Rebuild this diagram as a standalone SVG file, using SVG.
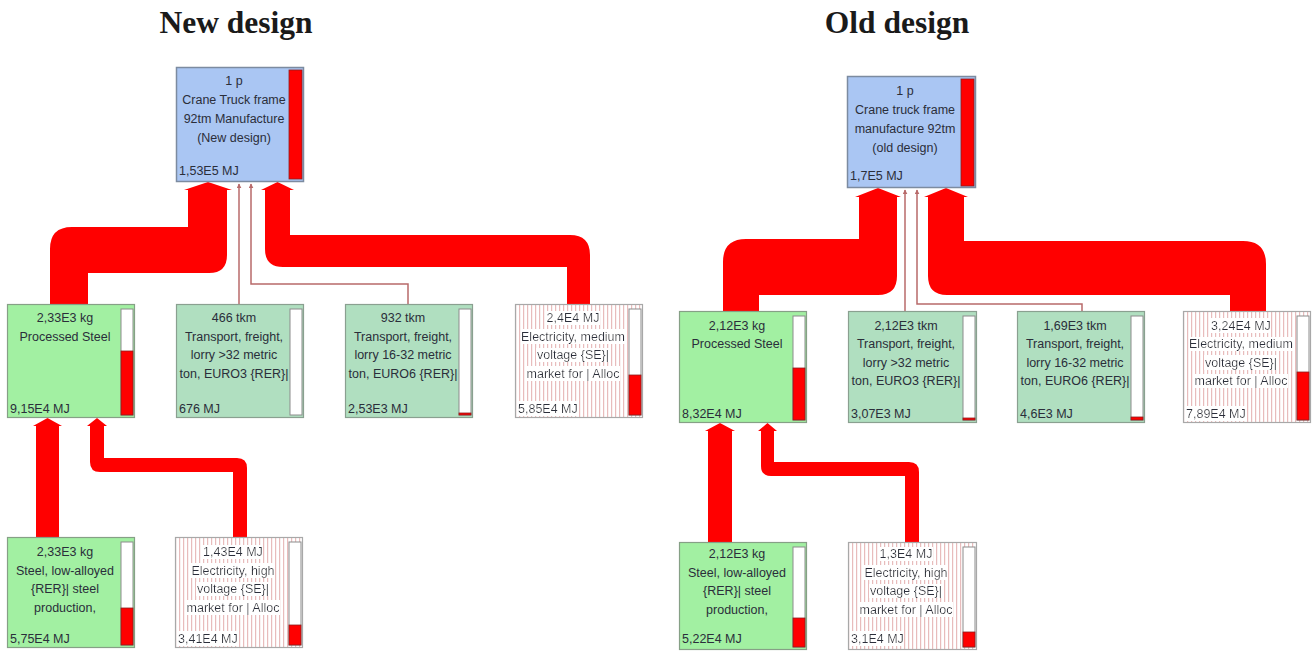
<svg xmlns="http://www.w3.org/2000/svg" width="1315" height="655" viewBox="0 0 1315 655">
<style>
.title{font-family:"Liberation Serif","Times New Roman",serif;font-weight:bold;font-size:31.5px;fill:#1a1a1a;text-anchor:middle}
.t{font-family:"Liberation Sans",Arial,sans-serif;font-size:12.5px;fill:#2a2e3a;text-anchor:middle}
.v{font-family:"Liberation Sans",Arial,sans-serif;font-size:12.5px;fill:#2a2e3a;text-anchor:start}
.wb{filter:url(#wbg)}
.blue{fill:#aac6f3;stroke:#7c8ba0;stroke-width:1.5}
.green{fill:#a2f0a2;stroke:#86a086;stroke-width:1.2}
.teal{fill:#b0dfc0;stroke:#8aa090;stroke-width:1.2}
.elec{fill:url(#stripe);stroke:#a8a8a8;stroke-width:1.2}
.barbg{fill:#fff;stroke:#8c8c8c;stroke-width:1}
.bar{fill:#ff0000;stroke:#8a2020;stroke-width:0.8}
.flow{fill:#ff0000}
.thin{stroke:#b86a6a;stroke-width:1.5;fill:none;marker-end:url(#ah)}
</style>
<defs>
<pattern id="stripe" width="4" height="4" patternUnits="userSpaceOnUse"><rect width="4" height="4" fill="#fff"/><rect width="1.2" height="4" fill="#e8bcbc"/></pattern>
<filter id="wbg" x="0" y="0" width="1" height="1"><feFlood flood-color="#ffffff"/><feComposite in="SourceGraphic" operator="over"/></filter>
<marker id="ah" viewBox="0 0 8 8" refX="7" refY="4" markerWidth="5" markerHeight="5" orient="auto" markerUnits="userSpaceOnUse"><path d="M0,0 L8,4 L0,8 Z" fill="#b86a6a"/></marker>
</defs>
<rect width="1315" height="655" fill="#fff"/>
<text class="title" x="236" y="33">New design</text>
<text class="title" x="897" y="33">Old design</text>

<g id="connectors">
<!-- new design -->
<path class="flow" d="M50,304 V249 Q50,227 72,227 H188 V190 L184,190 L208,182 L232,190 L227,190 V255 Q227,273 209,273 H88 V304 Z"/>
<path class="flow" d="M265,190 L261,190 L277.5,182 L294,190 L290,190 V235 H570 Q590,235 590,255 V304 H567 V267 H283 Q265,267 265,249 Z"/>
<path class="thin" d="M239,304 V184"/>
<path class="thin" d="M408,304 V284 H251 V184"/>
<path class="flow" d="M36,537 V426 L33,426 L47.5,418 L62,426 L59,426 V537 Z"/>
<path class="flow" d="M104,426 L107,426 L97,418 L87,426 L90,426 V462 Q90,472 100,472 H233 V537 H247 V468 Q247,458 237,458 H104 Z"/>
<!-- old design -->
<path class="flow" d="M723,311 V262 Q723,239 746,239 H859 V197 L855,197 L878,188 L901,197 L897,197 V276 Q897,295 878,295 H759 V311 Z"/>
<path class="flow" d="M928,197 L924,197 L946,188 L968,197 L964,197 V241 H1243 Q1266,241 1266,264 V311 H1230 V295 H947 Q928,295 928,276 Z"/>
<path class="thin" d="M905,311 V190"/>
<path class="thin" d="M1082,311 V304 H917 V190"/>
<path class="flow" d="M708,542 V431 L705,431 L720,423 L735,431 L732,431 V542 Z"/>
<path class="flow" d="M774,431 L777,431 L767.5,423 L758,431 L761,431 V466 Q761,476 771,476 H905 V542 H919 V472 Q919,462 909,462 H774 Z"/>
</g>

<!-- NEW DESIGN NODES -->
<g id="new-top" transform="translate(176,67)">
<rect class="blue" x="0.5" y="0.5" width="127" height="114"/>
<rect class="bar" x="113" y="3" width="13" height="109"/>
<text class="t" x="58" y="17.5">1 p</text>
<text class="t" x="58" y="36.5">Crane Truck frame</text>
<text class="t" x="58" y="56">92tm Manufacture</text>
<text class="t" x="58" y="75">(New design)</text>
<text class="v" x="3" y="107.5">1,53E5 MJ</text>
</g>
<g id="new-processed-steel" transform="translate(7,304)">
<rect class="green" x="0.5" y="0.5" width="127" height="113"/>
<rect class="barbg" x="114" y="5" width="12" height="106"/>
<rect class="bar" x="114" y="47" width="12" height="64"/>
<text class="t" x="58" y="18">2,33E3 kg</text>
<text class="t" x="58" y="36.5">Processed Steel</text>
<text class="v" x="3" y="108.5">9,15E4 MJ</text>
</g>
<g id="new-transport-euro3" transform="translate(176,304)">
<rect class="teal" x="0.5" y="0.5" width="127" height="113"/>
<rect class="barbg" x="114" y="5" width="12" height="106"/>
<text class="t" x="58" y="18">466 tkm</text>
<text class="t" x="58" y="36.5">Transport, freight,</text>
<text class="t" x="58" y="55">lorry &gt;32 metric</text>
<text class="t" x="58" y="73.5">ton, EURO3 {RER}|</text>
<text class="v" x="3" y="108.5">676 MJ</text>
</g>
<g id="new-transport-euro6" transform="translate(345,304)">
<rect class="teal" x="0.5" y="0.5" width="127" height="113"/>
<rect class="barbg" x="114" y="5" width="12" height="106"/>
<rect class="bar" x="114" y="109" width="12" height="2"/>
<text class="t" x="58" y="18">932 tkm</text>
<text class="t" x="58" y="36.5">Transport, freight,</text>
<text class="t" x="58" y="55">lorry 16-32 metric</text>
<text class="t" x="58" y="73.5">ton, EURO6 {RER}|</text>
<text class="v" x="3" y="108.5">2,53E3 MJ</text>
</g>
<g id="new-electricity-medium" transform="translate(515,304)">
<rect class="elec" x="0.5" y="0.5" width="127" height="113"/>
<rect class="barbg" x="114" y="5" width="12" height="106"/>
<rect class="bar" x="114" y="71" width="12" height="40"/>
<text class="t wb" x="58" y="18">2,4E4 MJ</text>
<text class="t wb" x="58" y="36.5">Electricity, medium</text>
<text class="t wb" x="58" y="55">voltage {SE}|</text>
<text class="t wb" x="58" y="73.5">market for | Alloc</text>
<text class="v wb" x="3" y="108.5">5,85E4 MJ</text>
</g>
<g id="new-steel-low-alloyed" transform="translate(7,537)">
<rect class="green" x="0.5" y="0.5" width="127" height="110"/>
<rect class="barbg" x="114" y="5" width="12" height="103"/>
<rect class="bar" x="114" y="71" width="12" height="37"/>
<text class="t" x="58" y="19">2,33E3 kg</text>
<text class="t" x="58" y="37.5">Steel, low-alloyed</text>
<text class="t" x="58" y="56">{RER}| steel</text>
<text class="t" x="58" y="74.5">production,</text>
<text class="v" x="3" y="105.5">5,75E4 MJ</text>
</g>
<g id="new-electricity-high" transform="translate(175,537)">
<rect class="elec" x="0.5" y="0.5" width="127" height="110"/>
<rect class="barbg" x="114" y="5" width="12" height="103"/>
<rect class="bar" x="114" y="88" width="12" height="20"/>
<text class="t wb" x="58" y="19">1,43E4 MJ</text>
<text class="t wb" x="58" y="37.5">Electricity, high</text>
<text class="t wb" x="58" y="56">voltage {SE}|</text>
<text class="t wb" x="58" y="74.5">market for | Alloc</text>
<text class="v wb" x="3" y="105.5">3,41E4 MJ</text>
</g>

<!-- OLD DESIGN NODES -->
<g id="old-top" transform="translate(847,76)">
<rect class="blue" x="0.5" y="0.5" width="128" height="111"/>
<rect class="bar" x="114" y="3" width="13" height="107"/>
<text class="t" x="58" y="18.5">1 p</text>
<text class="t" x="58" y="37.5">Crane truck frame</text>
<text class="t" x="58" y="56.5">manufacture 92tm</text>
<text class="t" x="58" y="75.5">(old design)</text>
<text class="v" x="3" y="103.5">1,7E5 MJ</text>
</g>
<g id="old-processed-steel" transform="translate(679,311)">
<rect class="green" x="0.5" y="0.5" width="127" height="111"/>
<rect class="barbg" x="114" y="5" width="12" height="104"/>
<rect class="bar" x="114" y="57" width="12" height="52"/>
<text class="t" x="58" y="18.5">2,12E3 kg</text>
<text class="t" x="58" y="37">Processed Steel</text>
<text class="v" x="3" y="106.5">8,32E4 MJ</text>
</g>
<g id="old-transport-euro3" transform="translate(848,311)">
<rect class="teal" x="0.5" y="0.5" width="128" height="111"/>
<rect class="barbg" x="115" y="5" width="12" height="104"/>
<rect class="bar" x="115" y="107" width="12" height="2"/>
<text class="t" x="58" y="18.5">2,12E3 tkm</text>
<text class="t" x="58" y="37">Transport, freight,</text>
<text class="t" x="58" y="55.5">lorry &gt;32 metric</text>
<text class="t" x="58" y="74">ton, EURO3 {RER}|</text>
<text class="v" x="3" y="106.5">3,07E3 MJ</text>
</g>
<g id="old-transport-euro6" transform="translate(1017,311)">
<rect class="teal" x="0.5" y="0.5" width="127" height="111"/>
<rect class="barbg" x="114" y="5" width="12" height="104"/>
<rect class="bar" x="114" y="106" width="12" height="3"/>
<text class="t" x="58" y="18.5">1,69E3 tkm</text>
<text class="t" x="58" y="37">Transport, freight,</text>
<text class="t" x="58" y="55.5">lorry 16-32 metric</text>
<text class="t" x="58" y="74">ton, EURO6 {RER}|</text>
<text class="v" x="3" y="106.5">4,6E3 MJ</text>
</g>
<g id="old-electricity-medium" transform="translate(1183,311)">
<rect class="elec" x="0.5" y="0.5" width="127" height="111"/>
<rect class="barbg" x="114" y="5" width="12" height="104"/>
<rect class="bar" x="114" y="61" width="12" height="48"/>
<text class="t wb" x="58" y="18.5">3,24E4 MJ</text>
<text class="t wb" x="58" y="37">Electricity, medium</text>
<text class="t wb" x="58" y="55.5">voltage {SE}|</text>
<text class="t wb" x="58" y="74">market for | Alloc</text>
<text class="v wb" x="3" y="106.5">7,89E4 MJ</text>
</g>
<g id="old-steel-low-alloyed" transform="translate(679,542)">
<rect class="green" x="0.5" y="0.5" width="127" height="107"/>
<rect class="barbg" x="114" y="5" width="12" height="100"/>
<rect class="bar" x="114" y="76" width="12" height="29"/>
<text class="t" x="58" y="16">2,12E3 kg</text>
<text class="t" x="58" y="34.5">Steel, low-alloyed</text>
<text class="t" x="58" y="53">{RER}| steel</text>
<text class="t" x="58" y="71.5">production,</text>
<text class="v" x="3" y="100.5">5,22E4 MJ</text>
</g>
<g id="old-electricity-high" transform="translate(848,542)">
<rect class="elec" x="0.5" y="0.5" width="128" height="107"/>
<rect class="barbg" x="115" y="5" width="12" height="100"/>
<rect class="bar" x="115" y="90" width="12" height="15"/>
<text class="t wb" x="58" y="16">1,3E4 MJ</text>
<text class="t wb" x="58" y="34.5">Electricity, high</text>
<text class="t wb" x="58" y="53">voltage {SE}|</text>
<text class="t wb" x="58" y="71.5">market for | Alloc</text>
<text class="v wb" x="3" y="100.5">3,1E4 MJ</text>
</g>
</svg>
